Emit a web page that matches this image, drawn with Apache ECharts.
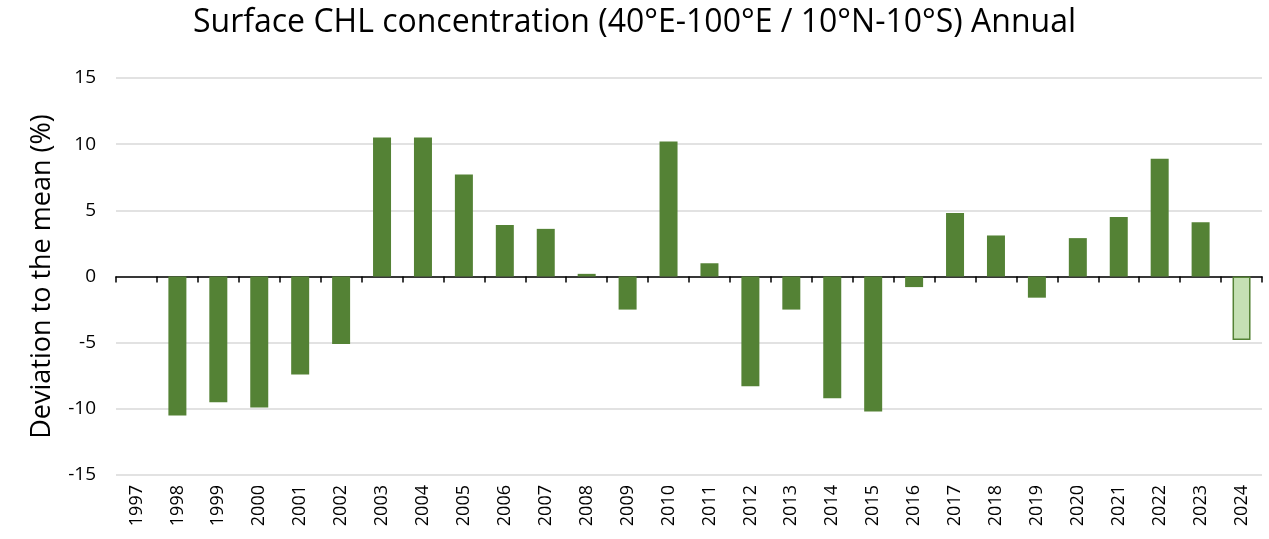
<!DOCTYPE html>
<html>
<head>
<meta charset="utf-8">
<script src="https://cdn.jsdelivr.net/npm/echarts@6/dist/echarts.min.js"></script>
<style>
  html, body { margin: 0; padding: 0; background: #fff; }
  #main { width: 1269px; height: 539px; }
</style>
</head>
<body>
<div id="main"></div>
<script>
// years on the x axis
var years = ["1997", "1998", "1999", "2000", "2001", "2002", "2003", "2004", "2005", "2006",
  "2007", "2008", "2009", "2010", "2011", "2012", "2013", "2014", "2015", "2016",
  "2017", "2018", "2019", "2020", "2021", "2022", "2023", "2024"];
// deviation to the mean (%), 1997 has no value
var deviation = [null, -10.5, -9.5, -9.9, -7.4, -5.1, 10.5, 10.5, 7.7, 3.9,
  3.6, 0.2, -2.5, 10.2, 1.0, -8.3, -2.5, -9.2, -10.2, -0.8,
  4.8, 3.1, -1.6, 2.9, 4.5, 8.9, 4.1, -4.8];
var provisionalYear = "2024";
var yTicks = [-15, -10, -5, 0, 5, 10, 15];

var myChart = echarts.init(document.getElementById("main"));

var barData = deviation.map(function (v, i) {
  if (years[i] === provisionalYear) {
    return {
      value: v,
      itemStyle: { color: "#c5e0b4", borderColor: "#548235", borderWidth: 1.5 }
    };
  }
  return v;
});

var option = {
  animation: false,
  title: {
    text: "Surface CHL concentration (40°E-100°E / 10°N-10°S) Annual",
    left: "center",
    top: 2,
    textStyle: {
      fontFamily: "Open Sans",
      fontWeight: "normal",
      fontSize: 32,
      color: "#000"
    }
  },
  grid: {
    left: 116,
    right: 7,
    top: 78,
    bottom: 64
  },
  xAxis: [
    {
      type: "category",
      data: years,
      position: "bottom",
      axisLine: { show: false, onZero: false },
      axisTick: { show: false },
      axisLabel: {
        rotate: 90,
        fontFamily: "Open Sans",
        fontSize: 18,
        color: "#000",
        margin: 10
      }
    },
    {
      type: "category",
      data: years,
      position: "top",
      axisLine: { show: true, onZero: true, lineStyle: { color: "#000", width: 1.5 } },
      axisTick: { show: true, inside: true, length: 6, lineStyle: { color: "#000", width: 1.5 } },
      axisLabel: { show: false }
    }
  ],
  yAxis: {
    type: "value",
    min: yTicks[0],
    max: yTicks[yTicks.length - 1],
    interval: 5,
    name: "Deviation to the mean (%)",
    nameLocation: "middle",
    nameGap: 60,
    nameTextStyle: {
      fontFamily: "Open Sans",
      fontSize: 27,
      color: "#000"
    },
    axisLine: { show: false },
    axisTick: { show: false },
    axisLabel: {
      fontFamily: "Open Sans",
      fontSize: 19,
      color: "#000",
      margin: 20
    },
    splitLine: { lineStyle: { color: "#d9d9d9", width: 1.5 } }
  },
  series: [
    {
      type: "bar",
      xAxisIndex: 0,
      data: barData,
      barWidth: 18,
      itemStyle: { color: "#548235" }
    }
  ]
};

myChart.setOption(option);
</script>
</body>
</html>
